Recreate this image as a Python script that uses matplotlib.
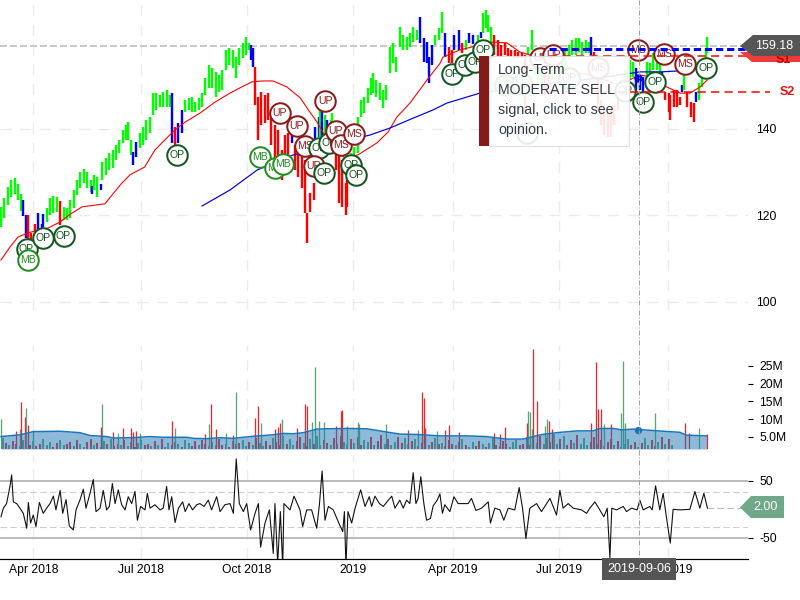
import numpy as np
import matplotlib
matplotlib.use("Agg")
import matplotlib.pyplot as plt
from matplotlib.patches import Polygon, Rectangle

plt.rcParams['font.family'] = ['Liberation Sans', 'DejaVu Sans']
plt.rcParams['axes.unicode_minus'] = False

# ---------- price bars: trading-day index, high, low ----------
bar_day = [0,2,4,6,8,10,12,13,15,16,18,20,22,24,25,27,29,31,33,35,37,39,41,43,45,47,49,51,53,54,55,57,59,60,62,64,66,68,70,72,74,75,77,78,80,82,84,86,88,90,92,94,96,98,100,101,103,105,107,109,111,113,115,117,119,121,123,125,127,129,131,133,135,137,139,141,143,145,147,148,149,150,152,154,156,158,160,162,164,166,168,170,172,174,176,178,180,181,183,185,186,188,189,190,192,193,195,196,198,200,202,204,205,207,209,211,213,215,217,219,220,222,224,226,228,230,232,234,236,238,240,242,244,246,248,250,252,253,255,257,259,261,263,265,267,268,271,273,275,277,279,282,284,285,287,288,290,292,294,296,298,300,302,304,306,308,310,312,314,316,318,320,322,324,326,328,330,332,334,336,338,340,342,344,346,348,349,351,353,355,357,359,361,363,365,367,369,371,372,374,376,378,380,382,384,386,388,390,391,393,395,396,398,400,402,403,404,406,408,410,411,413,415,417,418]
bar_high = [122.0,124.0,126.5,128.2,128.6,127.3,125.0,123.6,120.1,120.0,116.0,118.0,120.6,118.0,120.4,121.7,124.0,124.5,124.3,123.3,122.0,121.7,123.6,126.0,128.2,130.0,130.7,130.0,128.2,126.8,129.3,128.9,127.3,132.4,133.3,134.4,135.1,136.3,137.5,139.8,140.9,141.6,137.5,134.7,137.0,139.0,140.5,142.0,142.8,148.3,148.3,147.8,148.5,149.0,147.8,148.3,140.5,141.4,144.4,146.7,147.2,147.4,146.2,147.2,148.3,151.8,154.8,154.0,153.2,152.5,153.6,158.3,158.7,158.3,156.6,158.7,159.9,161.3,159.9,159.4,158.7,154.3,147.4,148.5,147.8,148.3,144.4,140.9,139.8,135.1,138.6,139.0,142.8,136.3,134.4,133.5,132.8,120.6,125.2,127.5,140.5,142.8,144.4,143.9,143.2,142.1,142.1,143.7,135.1,134.4,132.8,127.5,128.9,134.4,135.8,142.8,146.7,147.4,149.5,151.8,153.0,151.3,150.6,149.0,150.2,159.0,159.9,156.6,163.6,161.7,161.3,162.2,163.6,162.9,165.9,161.0,160.1,156.6,159.4,161.7,163.3,167.0,162.2,159.0,158.3,161.7,162.9,159.9,160.6,162.2,161.7,161.7,162.4,166.8,167.5,166.4,163.6,161.7,160.6,159.4,159.9,158.7,158.3,158.3,157.8,157.6,157.1,158.9,162.9,158.3,156.0,153.6,152.5,153.6,156.0,157.1,156.0,157.1,158.3,159.4,160.6,161.0,161.0,160.1,160.6,160.1,161.3,157.8,156.0,146.7,144.4,143.7,144.4,145.5,147.9,151.3,153.6,156.0,156.0,155.5,154.1,152.5,152.0,155.5,155.3,157.6,157.1,156.0,153.2,148.5,148.3,147.8,149.0,149.0,147.4,150.2,152.5,148.5,146.2,146.0,148.5,150.6,154.3,158.3,161.3]
bar_low = [117.3,119.5,122.4,124.3,125.0,123.5,121.0,119.8,114.9,114.3,114.3,114.3,116.6,115.5,117.3,118.5,120.0,120.5,120.9,117.8,119.0,119.0,119.5,121.7,124.7,126.3,127.5,126.3,125.4,125.0,125.9,124.3,125.9,128.2,129.3,130.5,131.0,132.8,134.4,136.8,137.5,137.5,134.0,131.7,133.5,135.6,136.3,137.5,139.0,143.2,144.4,145.1,145.1,145.1,145.1,136.8,136.3,136.8,139.0,144.0,144.4,144.0,144.0,144.4,145.1,147.9,149.5,149.5,147.4,148.5,149.0,153.6,154.8,154.1,151.8,154.8,156.4,157.1,158.3,156.0,154.3,145.5,137.5,140.9,141.4,142.1,136.3,131.7,130.5,128.2,129.3,132.1,136.8,130.5,128.9,126.3,120.6,113.6,120.8,123.6,135.1,138.1,138.1,137.5,136.3,136.3,135.1,139.8,130.5,122.9,122.0,120.1,122.0,131.2,132.8,134.4,142.8,143.7,146.0,147.9,148.3,147.4,146.7,144.8,146.7,153.0,155.3,153.2,159.0,158.3,158.3,159.0,160.1,160.6,159.9,155.5,155.3,150.6,154.8,159.4,160.6,162.2,156.6,155.3,155.3,158.3,158.3,157.6,158.3,159.9,159.6,159.4,161.0,162.2,163.3,162.4,159.9,157.1,156.6,156.6,157.1,156.6,156.6,156.4,156.4,156.4,143.7,157.1,158.3,152.5,151.3,149.0,147.9,150.2,151.3,152.5,153.2,153.2,154.1,156.0,157.1,157.1,157.8,157.1,157.6,157.6,157.1,156.6,144.4,140.9,138.6,138.1,138.1,140.9,144.4,147.9,149.0,151.3,151.3,152.0,148.5,149.0,148.5,152.0,152.0,153.6,153.6,152.5,150.2,146.7,143.9,142.1,145.1,145.1,145.5,148.5,149.0,145.1,142.8,141.6,146.2,146.7,149.7,154.3,157.6]
# colour runs: first day of each run and its colour code
run_start = [0,13,16,22,27,35,37,54,55,59,60,78,82,101,103,105,109,148,150,172,174,186,189,190,192,193,195,198,207,248,257,263,265,268,273,275,277,282,284,285,292,312,322,326,349,351,367,376,382,391,393,403,404,406,411,413]
run_col = ["g","b","r","b","g","r","g","b","g","b","g","b","g","b","r","b","g","b","r","b","r","b","g","b","g","b","g","r","g","b","g","b","r","b","r","g","b","g","b","g","r","g","r","g","b","r","g","b","g","b","r","b","g","r","b","g"]

# ---------- moving averages (day, price) ----------
red_ma_day = [0,5.3,10,16,27.8,35,41,48,55.6,61.5,70.4,76.3,85,91,97,103,109,117.8,126.6,135.5,141.4,148.5,154.4,161,169.2,177,182.8,187,194.7,203.5,211.2,222.5,229,234.3,242,252,259.8,261.5,271.6,291,299.4,307,313,319,330.8,348.5,366,378,387,394,401.8,407.7,413.6,417.8]
red_ma_val = [109.7,112.7,115,116,117.1,118.5,120.3,122,122.4,122.7,127,129.4,131.2,135.1,137.5,139.8,141.6,143.7,146.2,148.3,149.5,150.9,151.1,151.1,149.7,147.2,143.9,141.6,136.3,133.3,134,136.8,139.3,142.8,146,151.3,155.2,156.6,158.3,160.1,159.9,157.8,157.1,156.4,153.6,152.5,150.2,152.5,151.8,149.7,148.3,148.3,149.7,151.3]
blue_ma_day = [119,135.5,151.5,172.8,191.7,206.5,218.3,230,243.8,255.6,263.9,283.4,319,354.4,378,390,400,417.8]
blue_ma_val = [122.2,125.9,130.5,134,135.6,137.5,138.6,140.2,142.5,144.4,146,148.3,150.2,151.8,153.2,153.2,153.4,154.1]

# ---------- price levels ----------
last_price = 159.18
blue_level = 158.5
s1_level = 156.9
s2_level = 148.5
level_start_day = 324

# ---------- signal markers ----------
sig_label = ["OP","MB","OP","OP","OP","MB","MB","MB","UP","UP","MS","OP","UP","OP","UP","OP","UP","MS","MS","OP","OP",
             "OP","OP","OP","OP","MB","MB","OP","UP","UP","MS","OP","OP","MS","MS","MS","OP","OP","OP"]
sig_day = [15.1,16,25,37,104,153.3,162,167,165,175,180,188,185,191,192,194,198,201,209,207,210,
           267,274.6,280.5,285.2,298.2,308,336,319,326.7,353.3,311.2,369.2,377,392.3,404.7,417.2,387,380]
sig_val = [112.2,109.7,114.8,115.2,134,133.5,131,131.9,143.7,140.7,136.1,135.6,131.4,129.8,146.5,136.8,139.5,136.3,138.8,131.7,129.3,
           152.7,154.8,155.5,158.3,150.2,150.4,151.8,156.4,157.1,154.1,139.0,148.8,158.3,157.3,155.0,154.1,150.9,146.2]

# ---------- volume ----------
spike_day = [0,9,11,12,14,15,16,19,59,60,66,69,72,77,78,80,82,101,103,121,123,124,127,133,137,139,150,152,154,162,164,165,166,175,180,181,184,186,188,191,198,201,202,205,211,212,228,241,247,249,250,251,258,263,265,271,292,295,298,311,312,313,314,315,317,322,323,324,326,349,352,353,355,357,361,367,368,369,387,405,407,413,418]
spike_val = [10,6.8,7.2,14.8,10.7,13.1,8.3,7,7.9,14.2,6.5,6.2,7.4,7.4,6.5,6.8,6.2,9.4,7.4,5.8,8.7,14.2,7.2,6,5.6,17.6,10.3,13.6,9,7.2,7.9,9,10,7.4,14.2,13.6,9.3,24.6,9.4,9.1,8.2,12.3,12.5,8,9.1,8.7,8.6,7,7,17.6,15.9,7.4,6.6,7,8.4,6.3,6,5.8,7.7,8.9,12.3,12,7.2,29.8,15,8,10,9.6,7.2,8.9,26,13,12.8,8.7,8.6,11.7,26.4,8.9,11.7,8.9,6,7.4,5.8]
spike_col = ("grgrrgrg" "rgrgrrrrg" "rg" "rgrrgrg" "rrg" "rrrg" "r" "rrgggg" "rrrgggg" "rgrrrg" "rrr" "rrr" "rgggrrggrr" "rrrrgrgggg" "rrgr")

base_vol = [4.6,3.2,2.6,3.8,2.9,2.4,4.1,3.3,2.7,3.9,2.5,3.1,4.4,2.8,3.6,2.3,3.4,4.2,2.7,3.0,
            3.7,2.4,4.0,2.9,2.2,3.5,4.3,2.6,3.2,2.1,3.8,2.9,4.5,2.4,3.1,2.8,4.0,2.5,3.6,2.2,
            3.3,4.1,2.7,3.0,2.4,3.9,2.8,4.4,2.3,3.4,2.6,3.7,2.9,2.2,4.0,3.2,2.5,3.8,2.7,4.2,
            3.0,2.4,3.5,2.8,4.3,2.6,3.1,2.3,3.9,2.9,3.4,4.1,2.5,3.6,2.7,4.8,3.2,2.4,3.9,2.8,
            4.6,3.5,2.7,5.2,3.1,4.3,2.6,3.8,5.0,3.3,2.5,4.4,3.0,5.3,2.8,4.0,3.4,2.6,4.7,3.1,
            5.4,3.7,2.9,4.5,3.2,5.1,2.7,4.2,3.5,4.9,2.8,3.9,5.5,3.0,4.3,2.6,3.6,5.0,3.3,4.6,
            2.9,3.8,4.4,2.5,3.2,4.1,2.7,3.5,4.7,2.9,3.4,2.4,4.0,3.1,2.6,3.7,4.5,2.8,2.3,3.6,
            2.5,3.9,2.9,2.2,3.3,4.6,2.7,2.4,3.8,3.0,2.3,3.5,4.2,2.6,3.1,5.0,2.8,4.4,3.3,5.4,
            2.9,4.7,3.5,5.8,3.0,4.3,5.2,2.7,4.0,3.4,5.5,3.1,4.6,2.6,3.7,5.0,2.9,4.2,2.5,3.5,
            4.5,2.7,3.8,2.3,3.1,4.4,2.6,3.6,2.2,3.3,4.7,2.8,4.0,2.4,3.7,4.9,3.0,4.3,2.6]
base_col = ("grgrrgggrgrrgggrrggr" "rgrggrrgrggrgrrgrggr" "ggrrgrgrggrrgrggrrgr" "rgggrrgrgrrggrgrggrr" "grrgrggrrgrgrggrrgrg"
            "rggrgrrggrgrrgrggrrg" "grgrrggrgrggrrgrgrgg" "rrgrggrgrrgggrrgrggr" "grrggrgrrgrgggrrgrgr" "rgrgggrrgrggrrgrgrg")

vol_ma_day = [0,11.2,19.1,35,46.7,52.7,62.5,66.5,78.3,88.2,96,109.9,113.8,121.7,129.6,137.5,149.3,161.1,167,173,178.9,186.8,192.7,204.6,216.4,236,246,259.7,275.5,287.3,299.2,309,315,319,328.7,340.6,350.4,354.3,362.2,367.1,374,386,401.7,405.6,417.6]
vol_ma_val = [5.1,5.6,6.5,6.6,6.2,5.4,5.1,4.7,4.8,5.1,4.9,4.9,4.6,4.5,4.8,4.6,5.2,5.6,6.0,5.9,6.2,7.2,7.3,7.4,7.3,5.8,5.7,5.3,5.3,5.1,4.4,4.4,5.1,5.6,6.2,6.7,6.7,7.4,7.4,7.0,7.2,6.8,6.3,5.5,5.3]
vol_ticks = [5, 10, 15, 20, 25]
vol_tick_labels = ["5.0M", "10M", "15M", "20M", "25M"]

# ---------- oscillator ----------
osc_day = [0,1.4,3.3,5.3,6.3,7.3,9.3,11.2,13.2,15.2,16.2,17.5,19.1,20.7,22.7,25,27,29,31,32.5,35,36.5,38.5,40.4,42.8,44.4,46.7,48.7,50.3,52.7,54.6,56.2,58.6,60.5,62.5,64.1,65.9,67.5,69.4,71.4,73.4,75.3,77.3,79.3,80.7,82.6,85.2,86.6,88.2,91.1,94.1,96,98,99.4,101,103,105,107.5,109,111.2,113.4,115.8,117.7,120.1,122.7,124.6,127.6,129.6,132.5,135.5,137.5,139.2,141,143.4,145.4,147.7,150.3,152.3,153.6,156.2,158.8,161.1,162.1,163.7,165.3,166.7,167.4,171,173.4,176.9,178.5,180.9,183.8,186.8,188.4,190,191.7,193.7,196.6,199.6,202.2,203.2,204.1,205.3,207.5,209.5,212.8,215.4,217.9,219.3,221.3,223.9,226.2,229.2,231.2,233.1,236,238,240,241.9,243.9,245.5,246.8,248.4,250.2,251.8,254.1,255.7,258.1,259.7,261.2,262.6,265.6,268,270.5,273.5,276.4,278.4,281,284.3,288.3,289.6,292.2,295.2,297.5,300.1,304,306.6,308.6,310.6,312.9,316.9,319.8,322.8,324.8,328.7,330.7,332.6,335.6,338.6,343.5,346.5,348.4,351.4,354.3,356.7,358.7,360.3,361.4,364.2,368.2,370.1,373.1,376.4,378,380,383.9,385.3,387.3,389.8,391.8,393.4,396,397.7,401.7,407.6,410.6,413.5,415.9,418]
osc_val = [-13,2,10,40,60,13,10,2,-7,-33,12,-24,-10,-30,12,-7,2,10,23,-1,33,-7,17,-29,-36,-1,16,35,2,28,52,-4,2,33,-1,5,45,10,34,8,-1,22,10,31,-19,5,-1,28,2,8,-1,2,40,-1,22,-23,2,13,-4,10,-1,8,10,5,16,-1,22,-4,8,10,-7,88,10,-4,10,-36,-7,10,-66,-24,-1,-77,10,-94,-4,-100,10,-1,23,-1,-30,-1,-1,-33,8,67,-19,5,-1,-22,-39,-4,-100,-4,-24,2,34,5,22,5,23,10,5,16,23,2,16,2,16,10,64,10,19,57,10,-19,-16,6,16,27,-7,8,-4,22,10,10,10,19,-2,2,13,-24,2,-1,-19,2,-1,38,2,-51,2,10,-4,10,19,-10,33,2,10,2,-1,-7,2,13,-1,-13,2,-85,2,-1,5,-4,2,-1,16,-1,5,-1,41,-1,28,-7,-59,0,-1,0,31,2,28,2]
osc_ticks = [-50, 50]
osc_guides = [-30, 30]
osc_last = 2.00

# ---------- time axis ----------
tick_day = [19.1, 82.7, 145.4, 208.1, 267.6, 330.4, 394.5]
tick_label = ["Apr 2018", "Jul 2018", "Oct 2018", "2019", "Apr 2019", "Jul 2019", "Oct 2019"]
cross_day = 377
cross_label = "2019-09-06"
price_ticks = [100, 120, 140]

PX = 1 / 100 * 72  # points per pixel at dpi 100
GRID = "#ececec"
COL = {"g": "#00ff00", "b": "#0000ff", "r": "#ff0000"}
SIG = {"OP": "#14561f", "MB": "#228b22", "UP": "#8b1a1a", "MS": "#8b1a1a"}


def panel(top, bottom):
    return fig.add_axes([0, 1 - bottom / 600, 748 / 800, (bottom - top) / 600])


fig = plt.figure(figsize=(8, 6), dpi=100, facecolor="white")
ax = panel(0, 310)
av = panel(345, 449)
ao = panel(455, 559)

for a in (ax, av, ao):
    a.set_xlim(-0.59, 442)
    a.patch.set_alpha(0)
    for s in a.spines.values():
        s.set_visible(False)
    a.yaxis.tick_right()
    a.set_axisbelow(True)
    a.set_xticks(tick_day)
    a.tick_params(axis="x", length=0, labelbottom=False)
    a.grid(axis="x", color=GRID, lw=1.4 * PX, ls=(0, (8, 6)))

# ---- price panel ----
ax.set_ylim(98.15, 169.82)
ax.set_yticks(price_ticks)
ax.tick_params(axis="y", length=0, pad=8 * PX, labelsize=8.7)
ax.grid(axis="y", color=GRID, lw=1.4 * PX, ls=(0, (8, 6)))
ax.axhline(last_price, color="#c9c9c9", lw=2 * PX, ls=(0, (3.5, 1.5)), zorder=1)

run_start_arr = np.array(run_start)
colours = [COL[run_col[np.searchsorted(run_start_arr, d, side="right") - 1]] for d in bar_day]
ax.vlines(bar_day, bar_low, bar_high, colors=colours, lw=2.4 * PX, zorder=2)
ax.plot(red_ma_day, red_ma_val, color="#ff0000", lw=1.1 * PX, zorder=3)
ax.plot(blue_ma_day, blue_ma_val, color="#0000e0", lw=1.2 * PX, zorder=3)

for i, (lab, d, v) in enumerate(zip(sig_label, sig_day, sig_val)):
    z = 4 + i * 0.01
    ax.plot([d], [v], "o", ms=20.5 * PX, mfc="white", mec=SIG[lab], mew=2 * PX, zorder=z)
    ax.text(d, v, lab, color=SIG[lab], fontsize=7.6, ha="center", va="center", zorder=z)

ax.hlines(blue_level, level_start_day, 442, color="#0000ff", lw=3 * PX, ls=(0, (2.4, 1.3)), zorder=5)
ax.hlines(s1_level, level_start_day, 442, color="#ff0000", lw=1.5 * PX, ls=(0, (5.5, 3.5)), zorder=5)
ax.hlines(s2_level, level_start_day, 455, color="#ff0000", lw=1.5 * PX, ls=(0, (5.5, 3.5)), zorder=5, clip_on=False)
ax.plot([cross_day], [151.8], "o", ms=7 * PX, color="#0000e0", zorder=5)

# ---- volume panel ----
av.set_ylim(1.6, 30.9)
av.set_yticks(vol_ticks, vol_tick_labels)
av.tick_params(axis="y", length=5 * PX, width=0.8, pad=6 * PX, labelsize=8.7)
base_day = np.arange(len(base_vol)) * 2 + 1
VOLC = {"g": "#5aa577", "r": "#e8282c"}
av.vlines(base_day, 1.6, base_vol, colors=[VOLC[c] for c in base_col], lw=1.9 * PX, zorder=2)
av.vlines(spike_day, 1.6, spike_val, colors=[VOLC[c] for c in spike_col], lw=1.3 * PX, zorder=2)
av.fill_between(vol_ma_day, 1.6, vol_ma_val, color="#1f77b4", alpha=0.5, lw=0, zorder=3)
av.plot(vol_ma_day, vol_ma_val, color="#1b75bb", lw=1.5 * PX, zorder=4)
av.plot([cross_day], [7.0], "o", ms=6 * PX, color="#1b75bb", zorder=5)

# ---- oscillator panel ----
ao.set_ylim(-86.7, 94.8)
ao.set_yticks(osc_ticks)
ao.tick_params(axis="y", length=5 * PX, width=0.8, pad=6 * PX, labelsize=8.7)
for t in osc_ticks:
    ao.axhline(t, color="#bdbdbd", lw=2 * PX, zorder=1)
for t in osc_guides:
    ao.axhline(t, color="#cfcfcf", lw=1.1 * PX, ls=(0, (6, 3)), zorder=1)
ao.plot(osc_day, osc_val, color="#111111", lw=1.1 * PX, zorder=3)
ao.hlines(osc_last, osc_day[-1], 442, color="#bdbdbd", lw=1.1 * PX, ls=(0, (6, 3)), zorder=2)
ao.spines["bottom"].set_visible(True)
ao.spines["bottom"].set_color("black")
ao.spines["bottom"].set_linewidth(1.2 * PX)
ao.set_xticks(tick_day, tick_label)
ao.tick_params(axis="x", labelbottom=True, labelsize=8.7, pad=5 * PX)

# ---- overlay in pixel coordinates (tags, tooltip, crosshair) ----
ov = fig.add_axes([0, 0, 1, 1], zorder=10)
ov.set_xlim(0, 800)
ov.set_ylim(600, 0)
ov.set_axis_off()

# price tags
ov.add_patch(Polygon([(740, 52), (752, 62), (800, 62), (800, 52)], color="#ee3b3b", lw=0))
ov.text(783, 60, "S1", color="#cc0000", fontsize=9, fontweight="bold", ha="center", va="center", clip_on=True)
ov.add_patch(Polygon([(740, 46), (753, 35), (800, 35), (800, 56), (753, 56)], color="#555555", lw=0, zorder=3))
ov.text(774, 46, f"{last_price:.2f}", color="white", fontsize=9, ha="center", va="center", zorder=4)
ov.text(787, 92, "S2", color="#ee1111", fontsize=9, fontweight="bold", ha="center", va="center")

# oscillator tag
ov.add_patch(Polygon([(740, 507.5), (751, 496), (784, 496), (784, 518), (751, 518)], color="#6fa98a", lw=0))
ov.text(766, 507.5, f"{osc_last:.2f}", color="white", fontsize=9, ha="center", va="center")

# tooltip
ov.add_patch(Rectangle((489, 56), 140, 90, facecolor="white", edgecolor="#dddddd", lw=0.8, alpha=0.9))
ov.add_patch(Rectangle((479, 56), 10, 90, facecolor="#851a1a", lw=0))
for yy, line in zip((70, 90, 110, 130), ("Long-Term", "MODERATE SELL", "signal, click to see", "opinion.")):
    ov.text(498, yy, line, color="#333c44", fontsize=10.2, va="center", ha="left")

# crosshair
ov.plot([638.5, 638.5], [0, 559], color="#a0a0a0", lw=1 * PX, ls=(0, (5, 2, 1, 2)))
ov.add_patch(Rectangle((602, 558), 74, 22, facecolor="#555555", lw=0))
ov.text(639, 568.5, cross_label, color="white", fontsize=9, ha="center", va="center")

fig.savefig("out.png", dpi=100)
